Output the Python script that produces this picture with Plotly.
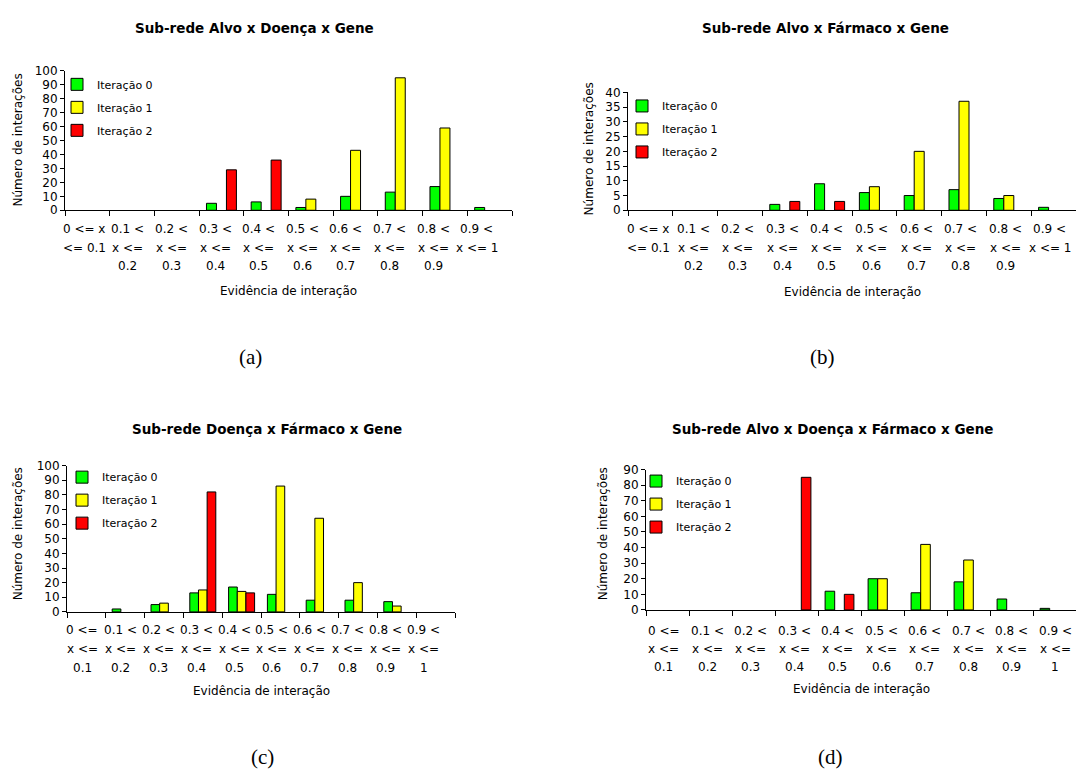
import plotly.graph_objects as go

# Evidence bins (categories on every x axis)
bins = ["0-0.1", "0.1-0.2", "0.2-0.3", "0.3-0.4", "0.4-0.5",
        "0.5-0.6", "0.6-0.7", "0.7-0.8", "0.8-0.9", "0.9-1"]

# Tick label lines for panels (a) and (b)
ticks_ab = [["0 <= x", "<= 0.1", ""], ["0.1 <", "x <=", "0.2"], ["0.2 <", "x <=", "0.3"],
            ["0.3 <", "x <=", "0.4"], ["0.4 <", "x <=", "0.5"], ["0.5 <", "x <=", "0.6"],
            ["0.6 <", "x <=", "0.7"], ["0.7 <", "x <=", "0.8"], ["0.8 <", "x <=", "0.9"],
            ["0.9 <", "x <= 1", ""]]
# Tick label lines for panels (c) and (d)
ticks_cd = [["0 <=", "x <=", "0.1"], ["0.1 <", "x <=", "0.2"], ["0.2 <", "x <=", "0.3"],
            ["0.3 <", "x <=", "0.4"], ["0.4 <", "x <=", "0.5"], ["0.5 <", "x <=", "0.6"],
            ["0.6 <", "x <=", "0.7"], ["0.7 <", "x <=", "0.8"], ["0.8 <", "x <=", "0.9"],
            ["0.9 <", "x <=", "1"]]

series_names = ["Iteração 0", "Iteração 1", "Iteração 2"]

# (a) Sub-rede Alvo x Doença x Gene
a_it0 = [0, 0, 0, 5, 6, 2, 10, 13, 17, 2]
a_it1 = [0, 0, 0, 0, 0, 8, 43, 95, 59, 0]
a_it2 = [0, 0, 0, 29, 36, 0, 0, 0, 0, 0]

# (b) Sub-rede Alvo x Fármaco x Gene
b_it0 = [0, 0, 0, 2, 9, 6, 5, 7, 4, 1]
b_it1 = [0, 0, 0, 0, 0, 8, 20, 37, 5, 0]
b_it2 = [0, 0, 0, 3, 3, 0, 0, 0, 0, 0]

# (c) Sub-rede Doença x Fármaco x Gene
c_it0 = [0, 2, 5, 13, 17, 12, 8, 8, 7, 0]
c_it1 = [0, 0, 6, 15, 14, 86, 64, 20, 4, 0]
c_it2 = [0, 0, 0, 82, 13, 0, 0, 0, 0, 0]

# (d) Sub-rede Alvo x Doença x Fármaco x Gene
d_it0 = [0, 0, 0, 0, 12, 20, 11, 18, 7, 1]
d_it1 = [0, 0, 0, 0, 0, 20, 42, 32, 0, 0]
d_it2 = [0, 0, 0, 85, 10, 0, 0, 0, 0, 0]

W, H = 1076, 777
FONT = "DejaVu Sans, Verdana, sans-serif"
SERIF = "Liberation Serif, DejaVu Serif, serif"
COLORS = ["#00FF00", "#FFFF00", "#FF0000"]


def fx(px):
    return px / W


def fy(py):
    return 1 - py / H


panels = [
    dict(title="Sub-rede Alvo x Doença x Gene", tag="(a)", data=[a_it0, a_it1, a_it2],
         ticks=ticks_ab, ymax=100, dtick=10, left=65, right=512, top=65, bottom=207,
         title_xy=(254, 21), tag_xy=(250, 356), ytitle_xy=(18, 136), xtitle_y=289,
         tick_rows=(226, 245, 264), lab_shift=(-3, -1.1), legend_xy=(57, 64)),
    dict(title="Sub-rede Alvo x Fármaco x Gene", tag="(b)", data=[b_it0, b_it1, b_it2],
         ticks=ticks_ab, ymax=40, dtick=5, left=628, right=1076, top=87, bottom=207,
         title_xy=(825, 21), tag_xy=(822, 356), ytitle_xy=(589, 145), xtitle_y=290,
         tick_rows=(226, 245, 264), lab_shift=(-2, -0.2), legend_xy=(622, 86)),
    dict(title="Sub-rede Doença x Fármaco x Gene", tag="(c)", data=[c_it0, c_it1, c_it2],
         ticks=ticks_cd, ymax=100, dtick=10, left=67, right=455, top=467, bottom=616,
         title_xy=(267, 430), tag_xy=(262, 764), ytitle_xy=(18, 537), xtitle_y=697,
         tick_rows=(634, 654, 673), lab_shift=(-4, -0.9), legend_xy=(62, 464)),
    dict(title="Sub-rede Alvo x Doença x Fármaco x Gene", tag="(d)", data=[d_it0, d_it1, d_it2],
         ticks=ticks_cd, ymax=90, dtick=10, left=646, right=1076, top=471, bottom=614,
         title_xy=(832, 430), tag_xy=(830, 764), ytitle_xy=(603, 536), xtitle_y=695,
         tick_rows=(635, 654, 672), lab_shift=(-4, 0.5), legend_xy=(636, 468)),
]

fig = go.Figure()
annotations = []
layout = {}

for k, p in enumerate(panels, start=1):
    sfx = "" if k == 1 else str(k)
    xa, ya = "x" + sfx, "y" + sfx
    leg = "legend" + sfx
    for s, (name, vals) in enumerate(zip(series_names, p["data"])):
        fig.add_trace(go.Bar(
            x=bins, y=[v if v else None for v in vals], name=name,
            xaxis=xa, yaxis=ya, legend=leg, legendgroup=f"{k}-{s}",
            marker=dict(color=COLORS[s], line=dict(color="black", width=1)),
        ))

    layout["xaxis" + sfx] = dict(
        domain=[fx(p["left"]), fx(p["right"])], anchor=ya, type="category",
        categoryorder="array", categoryarray=bins,
        range=[-0.5, 9.5], showticklabels=False, ticks="outside", tickson="boundaries",
        ticklen=5, tickcolor="black", showline=True, linecolor="black", linewidth=1,
        showgrid=False, zeroline=False, fixedrange=True,
    )
    layout["yaxis" + sfx] = dict(
        domain=[fy(p["bottom"]), fy(p["top"])], anchor=xa, range=[0, p["ymax"]],
        dtick=p["dtick"], tick0=0, ticks="outside", ticklen=4, tickcolor="black",
        showline=True, linecolor="black", linewidth=1, showgrid=False, zeroline=False,
        tickfont=dict(family=FONT, size=12, color="black"), fixedrange=True,
    )
    layout[leg] = dict(
        x=fx(p["legend_xy"][0]), y=fy(p["legend_xy"][1]), xanchor="left", yanchor="top",
        bgcolor="rgba(0,0,0,0)", font=dict(family=FONT, size=11, color="black"),
        tracegroupgap=4, itemwidth=30,
    )

    # category tick labels, one text row at a time
    off, step = p["lab_shift"]
    for i, lines in enumerate(p["ticks"]):
        for row, txt in zip(p["tick_rows"], lines):
            if txt:
                annotations.append(dict(
                    x=i, xref=xa, y=fy(row), yref="paper", text=txt, showarrow=False,
                    xanchor="center", yanchor="middle", xshift=off + step * i,
                    font=dict(family=FONT, size=12, color="black"),
                ))

    tx, ty = p["title_xy"]
    annotations.append(dict(x=fx(tx), y=fy(ty), xref="paper", yref="paper",
                            text="<b>" + p["title"] + "</b>", showarrow=False,
                            xanchor="center", yanchor="middle",
                            font=dict(family=FONT, size=13.5, color="black")))
    gx, gy = p["tag_xy"]
    annotations.append(dict(x=fx(gx), y=fy(gy), xref="paper", yref="paper",
                            text=p["tag"], showarrow=False, xanchor="center",
                            yanchor="middle", font=dict(family=SERIF, size=21, color="black")))
    yx, yy = p["ytitle_xy"]
    annotations.append(dict(x=fx(yx), y=fy(yy), xref="paper", yref="paper",
                            text="Número de interações", showarrow=False, textangle=-90,
                            xanchor="center", yanchor="middle",
                            font=dict(family=FONT, size=12, color="black")))
    annotations.append(dict(x=(p["left"] + p["right"]) / 2 / W, y=fy(p["xtitle_y"]),
                            xref="paper", yref="paper", text="Evidência de interação",
                            showarrow=False, xanchor="center", yanchor="middle",
                            font=dict(family=FONT, size=12, color="black")))

fig.update_layout(
    width=W, height=H, margin=dict(l=0, r=0, t=0, b=0),
    paper_bgcolor="white", plot_bgcolor="white",
    barmode="group", bargap=0.33, bargroupgap=0,
    showlegend=True, annotations=annotations,
    font=dict(family=FONT, size=12, color="black"),
    **layout,
)

fig.write_html("out.html", config={"displayModeBar": False})
